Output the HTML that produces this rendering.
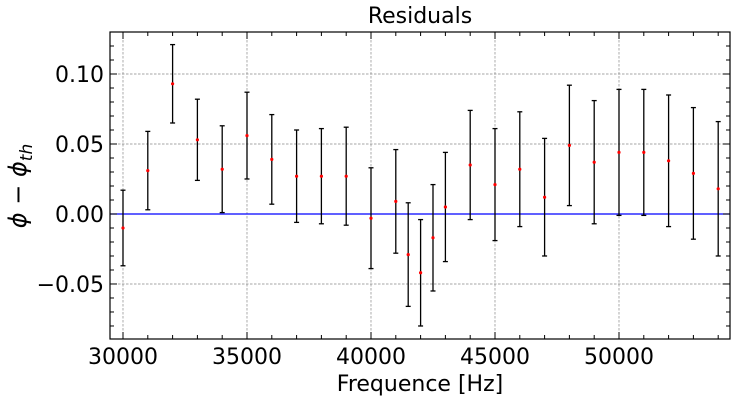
<!DOCTYPE html>
<html><head><meta charset="utf-8"><style>
body{margin:0;background:#fff;}
svg text{font-family:"DejaVu Sans","Liberation Sans",sans-serif;}
</style></head><body>
<svg id="chart" width="735" height="400" xmlns="http://www.w3.org/2000/svg"></svg>
<script>
const freqs=[30000,31000,32000,33000,34000,35000,36000,37000,38000,39000,40000,41000,41500,42000,42500,43000,44000,45000,46000,47000,48000,49000,50000,51000,52000,53000,54000];
const residuals=[-0.010,0.031,0.093,0.053,0.032,0.056,0.039,0.027,0.027,0.027,-0.003,0.009,-0.029,-0.042,-0.017,0.005,0.035,0.021,0.032,0.012,0.049,0.037,0.044,0.044,0.038,0.029,0.018];
const errors=[0.027,0.028,0.028,0.029,0.031,0.031,0.032,0.033,0.034,0.035,0.036,0.037,0.037,0.038,0.038,0.039,0.039,0.040,0.041,0.042,0.043,0.044,0.045,0.045,0.047,0.047,0.048];
const xTicks=[30000,35000,40000,45000,50000];
const yTicks=[-0.05,0,0.05,0.10];
const yTickLabels=["\u22120.05","0.00","0.05","0.10"];

const L=110,R=730,T=32,B=339;
const xMin=29476,xMax=54476,yMin=-0.0893,yMax=0.1300;
const sx=v=>L+(v-xMin)/(xMax-xMin)*(R-L);
const sy=v=>B-(v-yMin)/(yMax-yMin)*(B-T);
const svg=document.getElementById('chart');
const NS="http://www.w3.org/2000/svg";
function mk(tag,attrs,name,parent){const e=document.createElementNS(NS,tag);for(const k in attrs)e.setAttribute(k,attrs[k]);


(parent||svg).appendChild(e);return e;}
xTicks.forEach(t=>mk('line',{x1:sx(t),x2:sx(t),y1:T,y2:B,stroke:'#888','stroke-width':0.7,'stroke-dasharray':'2.5,1.5'},'x-grid-line'));
yTicks.forEach(t=>mk('line',{x1:L,x2:R,y1:sy(t),y2:sy(t),stroke:'#888','stroke-width':0.7,'stroke-dasharray':'2.5,1.5'},'y-grid-line'));
mk('line',{x1:L,x2:R,y1:sy(0),y2:sy(0),stroke:'#0000ff','stroke-width':1.3},'zero-line');
for(let v=30000;v<=54000;v+=1000){if(v%5000){mk('line',{x1:sx(v),x2:sx(v),y1:B,y2:B-4,stroke:'#000'},'x-minor-tick');mk('line',{x1:sx(v),x2:sx(v),y1:T,y2:T+4,stroke:'#000'},'x-minor-tick');}}
for(let i=-8;i<=12;i++){if(i%5){const v=i/100;mk('line',{x1:L,x2:L+4,y1:sy(v),y2:sy(v),stroke:'#000'},'y-minor-tick');mk('line',{x1:R,x2:R-4,y1:sy(v),y2:sy(v),stroke:'#000'},'y-minor-tick');}}
xTicks.forEach(t=>{mk('line',{x1:sx(t),x2:sx(t),y1:B,y2:B-7,stroke:'#000'},'x-major-tick');mk('line',{x1:sx(t),x2:sx(t),y1:T,y2:T+7,stroke:'#000'},'x-major-tick');
const tx=mk('text',{x:sx(t),y:B+25,'text-anchor':'middle','font-size':22},'x-tick-label');tx.textContent=t;});
yTicks.forEach((t,i)=>{mk('line',{x1:L,x2:L+7,y1:sy(t),y2:sy(t),stroke:'#000'},'y-major-tick');mk('line',{x1:R,x2:R-7,y1:sy(t),y2:sy(t),stroke:'#000'},'y-major-tick');
const tx=mk('text',{x:L-6,y:sy(t)+8,'text-anchor':'end','font-size':22},'y-tick-label');tx.textContent=yTickLabels[i];});
freqs.forEach((f,i)=>{const x=sx(f),y=residuals[i],e=errors[i];
mk('line',{x1:x,x2:x,y1:sy(y+e),y2:sy(y-e),stroke:'#000','stroke-width':1.3},'error-bar');
mk('line',{x1:x-2.5,x2:x+2.5,y1:sy(y+e),y2:sy(y+e),stroke:'#000','stroke-width':1.3},'error-cap');
mk('line',{x1:x-2.5,x2:x+2.5,y1:sy(y-e),y2:sy(y-e),stroke:'#000','stroke-width':1.3},'error-cap');
mk('circle',{cx:x,cy:sy(y),r:1.6,fill:'#ff0000'},'residual-point');});
mk('rect',{x:L,y:T,width:R-L,height:B-T,fill:'none',stroke:'#000','stroke-width':1.2},'plot-frame');
let t=mk('text',{x:420,y:23,'text-anchor':'middle','font-size':22},'chart-title');t.textContent='Residuals';
t=mk('text',{x:420,y:391,'text-anchor':'middle','font-size':22},'x-axis-title');t.textContent='Frequence [Hz]';
t=mk('text',{x:0,y:0,'text-anchor':'middle','font-size':24,'font-style':'italic',transform:'translate(26,186) rotate(-90)'},'y-axis-title');
t.innerHTML='\u03d5 \u2212 \u03d5<tspan font-size="17" dy="6">th</tspan>';
</script>
</body></html>
